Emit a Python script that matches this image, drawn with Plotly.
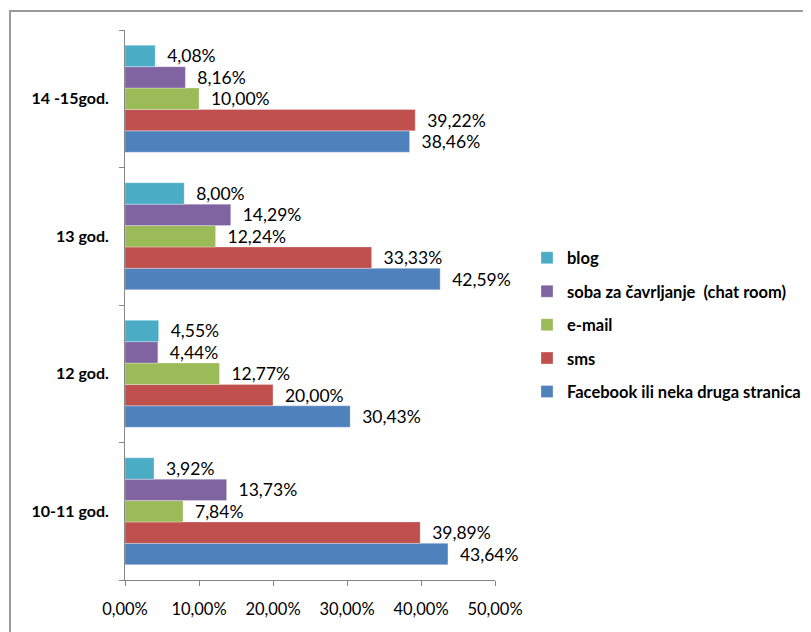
import plotly.graph_objects as go

categories = ["10-11 god.", "12 god.", "13 god.", "14 -15god."]

series_names = [
    "Facebook ili neka druga stranica",
    "sms",
    "e-mail",
    "soba za čavrljanje  (chat room)",
    "blog",
]
facebook = [43.64, 30.43, 42.59, 38.46]
sms = [39.89, 20.00, 33.33, 39.22]
email = [7.84, 12.77, 12.24, 10.00]
chat = [13.73, 4.44, 14.29, 8.16]
blog = [3.92, 4.55, 8.00, 4.08]

series_values = [facebook, sms, email, chat, blog]
series_colors = ["#4F81BD", "#C0504D", "#9BBB59", "#8064A2", "#4BACC6"]

tick_vals = [0, 10, 20, 30, 40, 50]
tick_text = ["0,00%", "10,00%", "20,00%", "30,00%", "40,00%", "50,00%"]

FONT = "Lato, 'Open Sans', sans-serif"

def fmt(v):
    return "\u00a0\u00a0" + f"{v:.2f}".replace(".", ",") + "%"

n = len(series_names)
fig = go.Figure()
for i, (name, vals, col) in enumerate(zip(series_names, series_values, series_colors)):
    fig.add_trace(go.Bar(
        y=categories, x=vals, name=name, orientation="h",
        marker=dict(color=col, line=dict(width=0.5, color="rgba(255,255,255,0.6)")),
        text=[fmt(v) for v in vals], textposition="outside",
        textfont=dict(family=FONT, size=17.5, color="#000"),
        constraintext="none", cliponaxis=False,
        legendgroup=f"g{i}", legendrank=n - i,
    ))

OFF = 8  # page body margin
W, H = 811 - OFF, 632 - OFF
L, R, T, B = 125 - OFF, 495 - OFF, 30 - OFF, 580 - OFF

def px(xs):
    return (xs - OFF - L) / (R - L)

def py(ys):
    return (B - (ys - OFF)) / (B - T)

fig.update_layout(
    width=W, height=H,
    margin=dict(l=L, r=W - R, t=T, b=H - B, pad=0, autoexpand=False),
    paper_bgcolor="white", plot_bgcolor="white",
    barmode="group", bargap=0.222, bargroupgap=0,
    font=dict(family=FONT, color="#000"),
    legend=dict(
        x=px(527), xanchor="left",
        y=py(325), yanchor="middle",
        traceorder="grouped", tracegroupgap=9,
        font=dict(family=FONT, size=16.5, color="#000", weight="bold"),
        bgcolor="rgba(0,0,0,0)",
    ),
    xaxis=dict(
        range=[0, 50], tickvals=tick_vals, ticktext=tick_text,
        showgrid=False, zeroline=False, automargin=False,
        showline=True, linecolor="#868686", linewidth=1,
        ticks="outside", ticklen=5, tickcolor="#868686",
        tickfont=dict(family=FONT, size=16.5, color="#000"),
        ticklabelstandoff=9,
    ),
    yaxis=dict(
        type="category", showgrid=False, zeroline=False, automargin=False,
        showline=True, linecolor="#868686", linewidth=1,
        ticks="outside", ticklen=5, tickcolor="#868686",
        tickson="boundaries",
        tickfont=dict(family=FONT, size=16, color="#000", weight="bold"),
        ticklabelstandoff=12,
    ),
    shapes=[dict(
        type="rect", xref="paper", yref="paper",
        x0=px(10), x1=3,
        y0=-2, y1=py(11),
        line=dict(color="#9a9a9a", width=2), fillcolor="rgba(0,0,0,0)",
        layer="below",
    )],
)

fig.write_html("out.html")
